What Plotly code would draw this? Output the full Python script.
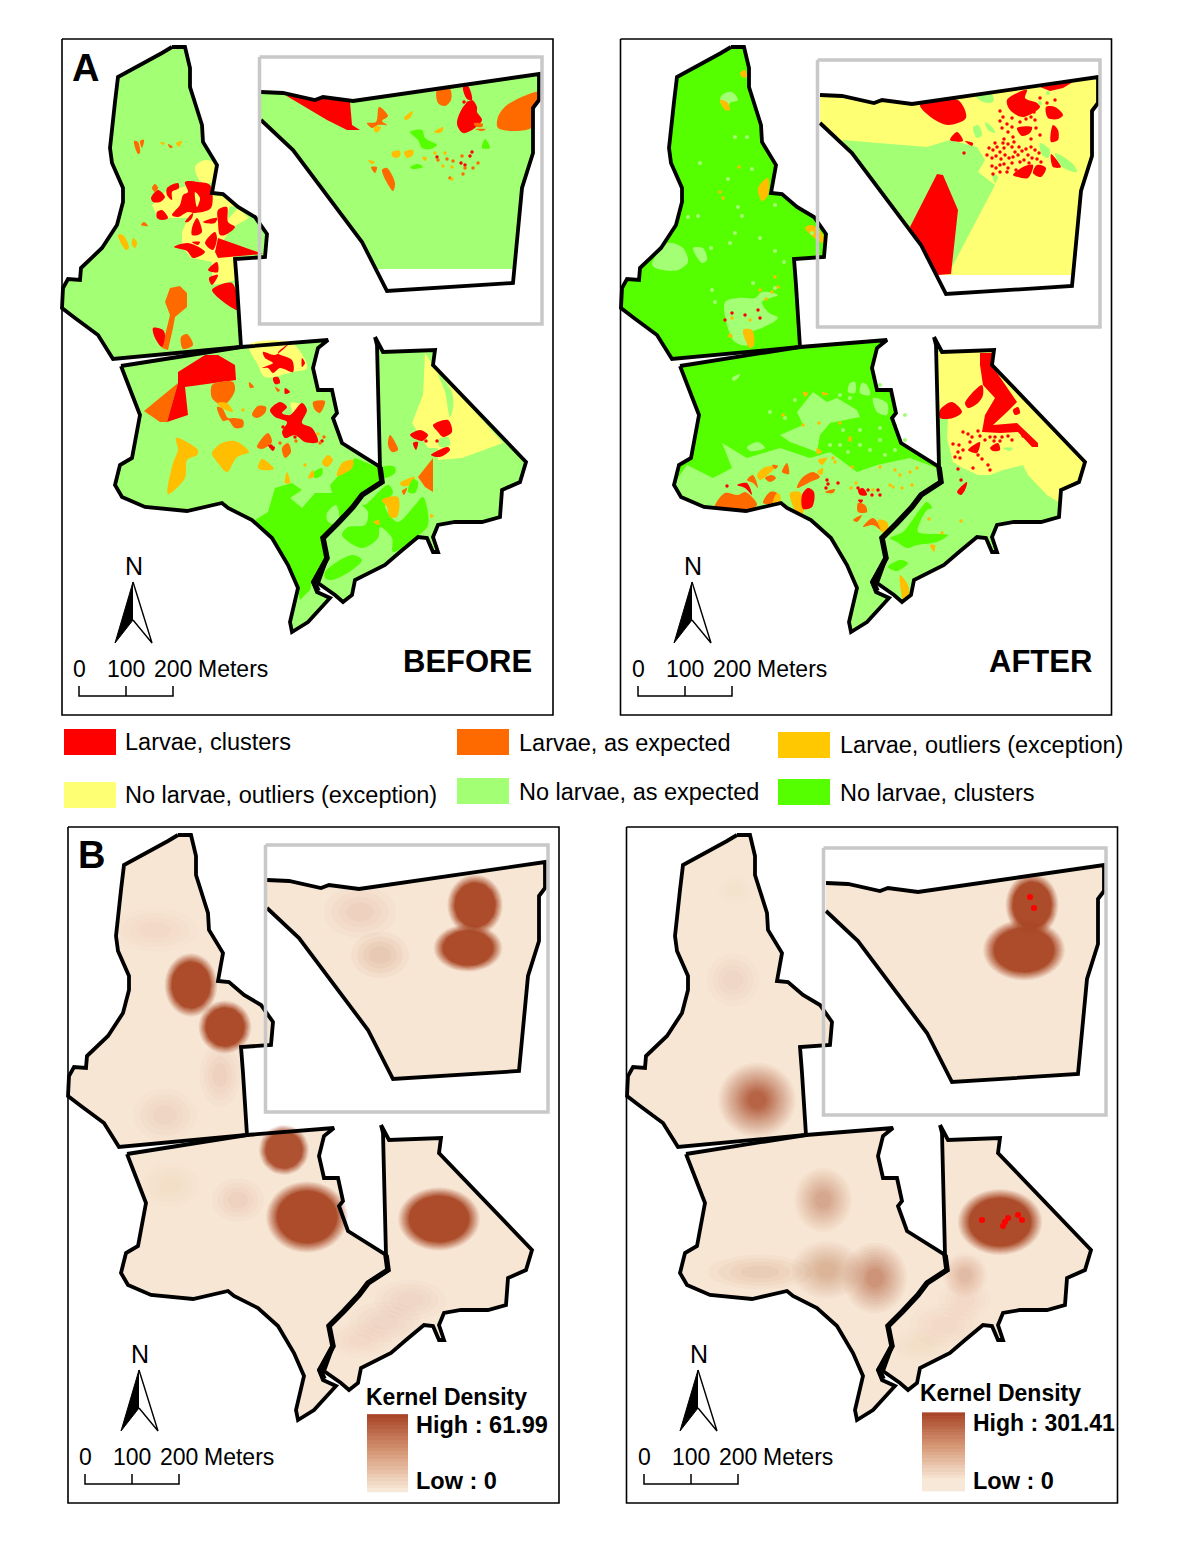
import math
import plotly.graph_objects as go

COLORS = {"red": "#ff0000", "orange": "#ff6a00", "amber": "#ffbe00", "yellow": "#ffff73",
          "lgreen": "#a3ff73", "green": "#55ff00", "peach": "#f7e6d4", "white": "#ffffff"}

WEST = [(172,47),(185,47),(190,68),(190,87),(202,125),(203,142),(217,165),(212,193),(223,194),(238,207),(255,217),(267,234),(265,257),(235,259),(237,285),(241,347),(113,359),(98,335),(75,318),(62,308),(63,288),(68,279),(80,280),(81,268),(102,248),(117,225),(123,202),(123,188),(112,163),(110,148),(115,102),(118,77),(162,53),(172,47)]
MID = [(121,366),(241,347),(328,340),(318,348),(313,368),(318,390),(332,390),(337,413),(333,418),(338,433),(342,443),(380,467),(382,482),(362,495),(353,507),(338,523),(323,538),(327,558),(313,582),(317,592),(330,598),(308,622),(292,632),(290,622),(298,588),(288,565),(272,538),(252,520),(228,508),(222,503),(187,511),(145,507),(122,497),(115,485),(120,465),(132,458),(140,415),(121,366)]
EAST = [(375,337),(383,352),(435,350),(433,365),(526,462),(520,482),(502,490),(500,517),(482,522),(455,522),(438,525),(433,537),(438,552),(433,552),(427,538),(418,537),(400,552),(385,565),(355,580),(352,595),(343,602),(335,595),(318,583),(327,558),(323,538),(338,523),(353,507),(362,495),(382,482),(380,467),(377,345),(375,337)]
SHARED = [(380,467),(382,482),(362,495),(353,507),(338,523),(323,538),(327,558),(314,582),(318,591)]
SHARED_TOP = [(113,359),(241,347)]
INSET = [(261,92),(283,93),(315,100),(323,97),(353,101),(539,74),(539,100),(533,108),(533,153),(522,188),(513,283),(387,291),(362,242),(293,150),(261,120)]
INSET_FILL_BEFORE = [(261,92),(283,93),(315,100),(323,97),(353,101),(539,74),(539,100),(533,108),(533,153),(522,188),(514,269),(376,269),(362,242),(293,150),(261,120)]
INSET_FILL_AFTER = [(261,92),(283,93),(315,100),(323,97),(353,101),(539,74),(539,100),(533,108),(533,153),(522,188),(514,272),(378,272),(362,242),(293,150),(261,120)]

BEFORE_PATCHES = [
 ("yellow",[(195,167),(205,160),(214,163),(212,182),(202,183)]),
 ("yellow",[(152,205),(165,192),(202,182),(212,195),(225,197),(237,208),(249,218),(233,227),(222,242),(235,258),(235,280),(225,283),(212,285),(212,262),(192,258),(182,248),(182,232),(188,218),(158,218)]),
 ("lgreen",[(230,207),(237,208),(228,218)]),
 ("red",[(218,238),(263,254),(218,258),(215,252)]),
 ("red",[(151,198),(158,190),(165,197),(160,202),(153,202)]),
 ("red",[(167,188),(178,183),(179,188),(172,192),(172,200),(167,195)]),
 ("red",[(185,182),(198,182),(210,185),(211,208),(195,213),(188,212),(178,217),(172,215),(180,205),(183,195),(188,192)]),
 ("red",[(157,212),(162,210),(168,218),(162,220),(157,218)]),
 ("red",[(185,222),(193,213),(192,218),(188,222)]),
 ("red",[(192,228),(197,218),(202,232),(198,235),(192,235)]),
 ("red",[(203,222),(217,218),(215,223),(205,223)]),
 ("red",[(218,210),(227,207),(228,222),(235,227),(225,235),(220,235),(218,222)]),
 ("red",[(205,243),(215,232),(217,238),(213,250)]),
 ("red",[(174,247),(188,243),(205,252),(193,258),(187,251)]),
 ("red",[(192,242),(200,242),(198,245)]),
 ("red",[(208,270),(217,262),(218,272),(212,272)]),
 ("red",[(209,278),(218,275),(212,285)]),
 ("red",[(212,290),(232,283),(238,310)]),
 ("yellow",[(195,192),(200,198),(197,207)]),
 ("orange",[(165,302),(170,288),(180,286),(187,293),(187,307),(175,317),(173,328),(168,350),(162,348),(167,328),(170,315)]),
 ("red",[(153,328),(163,330),(165,335),(162,347),(155,338)]),
 ("orange",[(181,337),(187,334),(193,345),(183,349)]),
 ("orange",[(134,141),(138,142),(140,153),(138,154)]),
 ("orange",[(140,141),(144,140),(142,148)]),
 ("amber",[(160,142),(165,143),(163,145)]),
 ("orange",[(168,144),(173,147),(170,148)]),
 ("amber",[(176,143),(182,141),(179,147)]),
 ("amber",[(118,235),(123,235),(129,248),(126,250)]),
 ("amber",[(133,238),(137,242),(135,248),(132,245)]),
 ("orange",[(141,225),(144,222),(148,226)]),
 ("orange",[(152,188),(155,184),(158,188),(155,192)]),
 # middle district
 ("green",[(255,520),(268,512),(275,488),(292,483),(302,490),(290,498),(302,508),(315,493),(332,493),(330,485),(355,458),(377,467),(380,482),(362,495),(353,507),(338,523),(323,538),(327,558),(312,582),(310,590),(300,600),(295,582),(288,565),(272,538)]),
 ("lgreen",[(327,513),(336,505),(339,518),(332,524),(327,520)]),
 ("yellow",[(249,345),(292,343),(307,368),(293,372),(265,377),(258,365)]),
 ("red",[(263,352),(275,355),(290,343),(278,353),(292,360),(293,372),(280,368),(273,373),(268,368),(262,368),(273,363),(265,358)]),
 ("red",[(302,358),(305,363),(302,367)]),
 ("orange",[(144,411),(178,383),(167,422),(160,422)]),
 ("red",[(178,372),(205,355),(218,355),(235,365),(236,380),(185,387),(188,415),(168,422),(167,422),(178,383)]),
 ("orange",[(212,385),(220,382),(233,382),(235,390),(228,402),(222,405),(212,398)]),
 ("orange",[(217,407),(222,408),(228,418),(233,418),(243,420),(243,427),(235,428),(228,420),(223,421)]),
 ("amber",[(217,403),(227,403),(233,412),(222,408)]),
 ("orange",[(252,415),(258,406),(266,407),(265,413),(257,418)]),
 ("orange",[(249,382),(254,387),(250,388)]),
 ("red",[(273,378),(278,377),(280,383),(275,384)]),
 ("orange",[(275,387),(280,390),(278,392)]),
 ("red",[(285,388),(290,392),(285,394)]),
 ("yellow",[(291,403),(302,405),(298,413),(293,412)]),
 ("red",[(270,410),(280,402),(287,407),(282,413),(290,415),(302,403),(307,410),(302,423),(312,428),(318,442),(305,442),(295,435),(285,438),(282,432),(287,422),(275,417)]),
 ("orange",[(313,402),(325,401),(320,413),(315,410)]),
 ("amber",[(176,438),(198,450),(197,455),(187,460),(185,478),(168,494),(173,463),(178,450)]),
 ("amber",[(212,453),(222,443),(235,441),(249,452),(237,457),(227,472),(218,463)]),
 ("amber",[(258,468),(262,459),(274,469),(262,470)]),
 ("orange",[(257,447),(268,433),(272,442),(262,449)]),
 ("red",[(268,445),(275,447),(273,451)]),
 ("orange",[(282,448),(288,443),(291,452),(285,458)]),
 ("amber",[(285,483),(287,472),(290,483)]),
 ("amber",[(322,463),(328,455),(333,460),(327,467)]),
 ("amber",[(337,476),(342,463),(353,460),(352,468)]),
 ("green",[(313,473),(322,468),(322,475),(315,478)]),
 ("amber",[(308,478),(313,470),(314,477)]),
 # east district
 ("yellow",[(425,353),(433,365),(503,443),(462,458),(438,460),(438,448),(428,448),(412,423),(423,395)]),
 ("lgreen",[(438,373),(452,392),(453,408),(450,417),(445,392)]),
 ("lgreen",[(438,440),(448,437),(450,445),(440,447)]),
 ("red",[(433,425),(448,420),(452,432),(443,437),(438,432)]),
 ("red",[(410,435),(420,430),(428,435),(422,441)]),
 ("red",[(431,455),(448,447),(450,450),(440,457)]),
 ("red",[(413,443),(418,442),(416,450)]),
 ("orange",[(390,435),(395,442),(398,450),(392,452),(388,445)]),
 ("orange",[(433,458),(433,492),(425,487),(418,477)]),
 ("amber",[(400,483),(415,477),(410,485),(402,486)]),
 ("green",[(408,492),(413,479),(418,482),(415,493)]),
 ("orange",[(402,491),(407,488),(404,495)]),
 ("green",[(383,467),(395,467),(395,473),(385,478),(382,477)]),
 ("green",[(365,505),(388,485),(393,492),(385,505),(388,513),(398,522),(415,505),(423,497),(428,525),(415,538),(393,552),(392,538),(380,527),(378,538),(362,548),(342,535),(348,527),(365,525),(368,512),(362,505)]),
 ("green",[(325,572),(352,555),(362,560),(352,570),(332,580),(325,578)]),
 ("amber",[(382,500),(398,497),(397,517),(390,517),(387,507)]),
 ("amber",[(373,522),(379,520),(379,525)]),
 ("amber",[(430,514),(434,516),(431,518)]),
 # inset
 ("red",[(285,95),(315,100),(323,97),(350,102),(352,125),(360,130),(347,130),(327,120)]),
 ("orange",[(367,123),(376,122),(379,107),(388,116),(382,121),(387,125),(378,125),(372,128)]),
 ("amber",[(374,127),(381,127),(378,132),(375,132)]),
 ("amber",[(404,118),(413,111),(410,118),(406,120)]),
 ("orange",[(437,90),(450,89),(451,100),(445,106),(438,103)]),
 ("red",[(463,87),(468,86),(472,100),(467,99)]),
 ("red",[(463,107),(472,100),(477,107),(477,112),(482,120),(472,130),(463,133),(457,124)]),
 ("orange",[(474,123),(483,124),(482,127),(475,126)]),
 ("orange",[(475,129),(486,129),(482,131)]),
 ("orange",[(498,117),(507,105),(539,92),(539,100),(532,108),(531,128),(498,128)]),
 ("green",[(410,132),(422,130),(425,138),(437,145),(430,149),(422,148),(418,140)]),
 ("green",[(482,148),(485,139),(490,148)]),
 ("amber",[(434,132),(443,127),(442,132),(437,133)]),
 ("amber",[(392,152),(400,151),(400,156),(396,158),(392,156)]),
 ("amber",[(404,152),(413,150),(413,155),(407,158)]),
 ("amber",[(368,160),(375,162),(372,164)]),
 ("orange",[(371,167),(377,167),(375,173)]),
 ("orange",[(382,170),(387,168),(395,183),(393,191)]),
 ("green",[(410,167),(418,164),(423,167),(413,169)]),
 ("amber",[(422,157),(427,158),(425,161)]),
]
BEFORE_SPECKS = {
 "red": [(472,152),(470,156),(461,163),(437,157),(465,165),(468,103),(464,102),(283,427),(295,437),(322,441),(316,440),(271,446),(422,437),(426,441),(437,441),(415,437)],
 "orange": [(462,156),(463,174),(473,168),(478,163),(438,160),(453,161),(447,159),(450,178),(465,168),(320,443),(324,437),(296,441),(280,443)],
 "amber": [(443,166),(452,167),(452,179),(445,153),(435,153),(318,434),(305,465),(243,410)],
}

AFTER_MAIN = [
 # west district (absolute page pixels)
 ("lgreen",[(652,265),(668,243),(683,248),(688,262),(678,270),(662,270)]),
 ("lgreen",[(693,248),(703,248),(707,260),(702,263)]),
 ("lgreen",[(725,302),(738,298),(755,298),(762,292),(778,295),(762,302),(768,312),(778,318),(762,328),(752,332),(748,345),(735,342),(727,325)]),
 ("amber",[(743,330),(752,330),(754,345),(750,348)]),
 ("amber",[(730,333),(733,337),(728,337)]),
 ("amber",[(758,188),(768,178),(768,195),(762,201)]),
 ("amber",[(805,228),(812,225),(823,235),(823,243)]),
 ("lgreen",[(722,95),(732,92),(738,100),(730,103),(728,110),(720,102)]),
 ("amber",[(720,100),(727,102),(730,110),(725,110)]),
 ("amber",[(740,73),(745,70),(747,77),(742,77)]),
 # middle district
 ("lgreen",[(673,485),(687,465),(713,478),(732,468),(722,443),(747,458),(780,448),(810,458),(830,452),(857,472),(877,465),(910,458),(937,468),(940,482),(917,507),(900,522),(882,542),(887,555),(873,578),(877,592),(888,598),(867,622),(850,630),(848,618),(857,588),(847,565),(830,538),(810,522),(787,508),(780,503),(745,511),(703,507),(680,497)]),
 ("lgreen",[(797,412),(813,392),(827,402),(837,398),(857,410),(860,417),(830,423),(820,435),(817,452),(790,442),(780,435),(803,425)]),
 ("lgreen",[(747,447),(758,442),(765,448),(750,451)]),
 ("lgreen",[(732,378),(740,374),(738,378),(733,381)]),
 ("lgreen",[(850,383),(855,382),(855,393),(848,392)]),
 ("lgreen",[(862,383),(867,385),(870,395),(860,393)]),
 ("lgreen",[(873,398),(887,403),(887,415),(877,412)]),
 ("lgreen",[(800,430),(810,432),(808,437),(802,435)]),
 ("orange",[(715,505),(725,493),(738,495),(745,492),(753,498),(757,505),(745,511),(715,507)]),
 ("orange",[(763,503),(770,492),(777,493),(773,503)]),
 ("amber",[(773,503),(777,493),(780,495),(780,503)]),
 ("amber",[(790,493),(800,492),(803,513),(797,513)]),
 ("red",[(802,495),(808,488),(814,492),(812,507),(803,509)]),
 ("orange",[(797,488),(802,478),(813,472),(820,477),(810,482)]),
 ("amber",[(817,472),(823,468),(822,475)]),
 ("amber",[(757,475),(765,467),(775,467),(765,477),(760,480)]),
 ("orange",[(747,480),(753,475),(758,488),(753,483)]),
 ("orange",[(765,478),(772,475),(776,478),(770,482)]),
 ("orange",[(782,472),(787,463),(789,474)]),
 ("orange",[(772,465),(778,466),(775,469)]),
 ("red",[(737,485),(747,483),(752,495),(745,488)]),
 ("amber",[(817,448),(822,452),(817,454)]),
 ("amber",[(818,460),(827,458),(822,465)]),
 ("amber",[(803,392),(808,393),(805,397)]),
 ("amber",[(822,392),(829,394),(823,395)]),
 ("orange",[(858,503),(865,505),(867,512),(858,512)]),
 ("red",[(858,490),(863,488),(867,495),(860,495)]),
 ("red",[(858,500),(863,500),(861,503)]),
 ("orange",[(853,520),(862,515),(857,522)]),
 ("orange",[(863,527),(873,518),(883,532),(873,525)]),
 ("amber",[(878,520),(887,522),(888,532),(883,533)]),
 ("orange",[(825,492),(835,489),(833,493),(827,493)]),
 # east district
 ("yellow",[(938,352),(995,350),(993,367),(1085,462),(1080,480),(1060,490),(1058,502),(1047,495),(1028,475),(1023,465),(1003,470),(990,475),(978,475),(963,468),(953,462),(947,438),(948,418),(938,418)]),
 ("red",[(980,353),(992,353),(993,367),(1003,382),(1017,402),(1007,412),(993,425),(1017,423),(1038,443),(1038,447),(1032,447),(1018,432),(1000,433),(982,432),(985,415),(995,398),(983,385),(980,365)]),
 ("red",[(965,403),(982,385),(983,395),(978,403),(968,408)]),
 ("red",[(940,410),(952,402),(962,412),(953,418),(940,418)]),
 ("red",[(1013,410),(1018,407),(1020,413),(1015,415)]),
 ("red",[(990,448),(998,443),(1000,450),(993,451)]),
 ("red",[(968,450),(980,442),(977,453)]),
 ("red",[(957,492),(967,482),(965,490),(961,495)]),
 ("lgreen",[(1003,448),(1013,448),(1010,451)]),
 ("green",[(890,538),(903,532),(918,512),(927,502),(932,508),(927,510),(920,522),(918,532),(948,535),(937,542),(917,545),(907,548),(897,542)]),
 ("green",[(888,567),(900,560),(908,563),(897,571)]),
 ("amber",[(900,575),(908,585),(909,595),(904,602)]),
 ("amber",[(930,545),(935,545),(934,552)]),
 # inset
 ("lgreen",[(842,140),(927,147),(950,140),(977,147),(985,160),(978,172),(995,185),(952,267),(910,227),(853,153)]),
 ("red",[(910,227),(937,174),(943,175),(958,210),(951,274),(938,275),(920,245)]),
 ("red",[(920,105),(958,100),(966,118),(948,125),(932,118)]),
 ("red",[(950,140),(957,132),(963,141)]),
 ("red",[(965,141),(973,143),(972,146)]),
 ("red",[(1007,100),(1027,90),(1025,98),(1037,103),(1040,107),(1023,117),(1010,110)]),
 ("red",[(1040,87),(1073,82),(1063,88),(1050,91)]),
 ("red",[(1046,107),(1055,107),(1063,115),(1058,119),(1048,118)]),
 ("red",[(1017,128),(1032,127),(1030,133),(1022,136)]),
 ("red",[(1053,125),(1058,130),(1058,140),(1051,142)]),
 ("red",[(1051,154),(1061,167),(1053,167)]),
 ("red",[(1037,165),(1046,168),(1041,177),(1033,173)]),
 ("red",[(1013,175),(1023,167),(1033,165),(1028,178),(1018,177)]),
 ("lgreen",[(975,95),(992,94),(993,102),(983,102)]),
 ("lgreen",[(973,127),(978,125),(982,135),(977,138)]),
 ("lgreen",[(985,122),(993,128),(995,133),(988,130)]),
 ("lgreen",[(1040,143),(1050,150),(1048,158),(1042,155)]),
 ("lgreen",[(1055,153),(1072,163),(1077,172),(1062,167)]),
 ("lgreen",[(992,173),(998,177),(995,183)]),
]
AFTER_SPECKS = {
 "lgreen": [(688,217),(735,233),(700,163),(728,179),(738,207),(742,216),(715,302),(712,290),(753,283),(711,248),(730,243),(752,169),(735,137),(747,137),(698,216),(775,251),(760,238),(775,205),(775,288),(784,262),(812,233),
            (850,398),(843,430),(860,430),(880,428),(830,445),(840,445),(860,445),(880,440),(895,425),(905,440),(895,450),(848,452),(870,450),(885,455),(770,412),(785,418),(795,400),(905,415),(880,385),(840,395),(1048,93),(1040,103)],
 "amber": [(720,192),(739,167),(723,198),(760,290),(772,292),(778,287),(775,277),(766,299),(732,318),(750,320),(783,415),(803,425),(819,423),(840,423),(850,440),(850,438),(835,462),(833,458),(852,467),(880,467),(895,470),(900,475),(917,468),(910,472),(893,487),(902,488),(912,485),(856,483),(890,485),(873,490),(851,488),(942,533),(961,521),(929,519)],
 "red": [(758,310),(732,313),(745,315),(725,320),(760,318),(727,486),(826,488),(828,484),(858,488),(868,490),(872,495),(878,490),(880,495),(838,483),(827,480),
         (959,445),(958,452),(963,450),(953,444),(955,457),(960,458),(978,455),(982,459),(988,465),(990,470),(973,468),(958,469),(961,480),
         (968,434),(972,437),(978,431),(980,436),(985,440),(970,442),(963,432),(990,437),(995,437),(1002,437),(1008,436),(1012,440),(1000,441),(994,441),(988,428),(1021,430),(1023,436),(1010,427),(1018,428),
         (964,153),(1000,111),(1003,117),(1007,124),(1012,118),(1000,121),(1012,127),(1002,128),(1008,132),(1004,139),(1013,137),(1024,108),(1027,113),(1030,104),(1034,112),(1031,117),(1035,120),(1026,119),(1020,122),(1036,128),(1040,135),(1031,139),(1040,98),(1047,103),(1055,100),
         (989,148),(993,150),(997,147),(1000,152),(1004,148),(1008,144),(1012,147),(1015,152),(1019,147),(987,155),(992,158),(996,156),(1001,159),(1005,155),(1009,158),(1013,157),(1018,155),(1022,151),(1026,149),(1031,147),(1035,150),(1039,153),(1028,155),(1032,158),(1024,160),(1020,162),(992,166),(996,168),(1000,165),(1004,164),(1008,168),(1012,163),(1016,170),(1007,172),(1000,172),(993,174),(1029,163),(1037,159),(1041,162),(1014,142),(1003,143),(995,143)],
}

# Kernel density blobs: centre x, centre y, radius x, radius y, strength
KERNEL_BEFORE = [(155,930,30,15,.06),(165,1115,22,18,.09),(220,1075,14,22,.11),(238,1200,18,15,.11),(170,1185,20,15,.05),(360,1340,22,12,.06),(385,1322,25,14,.08),(410,1300,25,14,.08),(360,912,25,18,.11),(380,955,20,16,.18),
                 (191,985,20,24,.97),(225,1027,20,20,.97),(284,1150,19,19,.93),(307,1217,31,27,.97),(439,1219,31,24,.97),(475,905,21,23,.97),(468,948,26,18,.97)]
KERNEL_AFTER = [(733,980,18,18,.08),(735,890,12,10,.03),(760,1272,36,12,.15),(920,1345,20,12,.05),(945,1325,25,15,.06),(965,1300,18,14,.06),
                (823,1200,18,20,.38),(827,1270,22,18,.3),(875,1278,20,22,.5),(965,1275,14,14,.25),(757,1100,25,24,.8),(1000,1222,32,25,.97),(1032,905,20,24,.97),(1024,950,31,23,.97)]
KERNEL_POINTS_AFTER = [(1030,897),(1034,908),(982,1220),(1005,1222),(1008,1218),(1018,1215),(1022,1220),(1003,1226)]

RAMP_BEFORE = [20,19,18,17,16,15,14,13,12,11,10,9,8,7,6,5,4,3,2,1,0]
RAMP_AFTER = [20,19,18,17,16,15,14,13,12,11,10,9,8,7,6,5,4,3,2,1,0,0,0,0]

NORTH_DARK = [(133,582),(115,643),(133,620)]
NORTH_LIGHT = [(133,582),(152,643),(133,620)]
SCALE_TICKS = [79,126,173]
SCALE_LABELS = ["0","100","200"]

LEGEND_ITEMS = [
 ("red","Larvae, clusters",64,729,125,742),
 ("orange","Larvae, as expected",457,729,519,743),
 ("amber","Larvae, outliers (exception)",778,732,840,745),
 ("yellow","No larvae, outliers (exception)",64,782,125,795),
 ("lgreen","No larvae, as expected",457,778,519,792),
 ("green","No larvae, clusters",778,779,840,793),
]

FONT = "Liberation Sans"
fig = go.Figure()
annots = []

def moved(poly, dx=0, dy=0):
    return [(x+dx, y+dy) for x, y in poly]

def fill(poly, color):
    fig.add_trace(go.Scatter(x=[p[0] for p in poly], y=[p[1] for p in poly], mode="lines", fill="toself",
                             fillcolor=color, line=dict(width=0, color=color), hoverinfo="skip", showlegend=False))

def patch(poly, key):
    w = max(p[0] for p in poly)-min(p[0] for p in poly)
    h = max(p[1] for p in poly)-min(p[1] for p in poly)
    d = max(w, h)
    smooth = d < 30 or (len(poly) >= 5 and d < (90 if key == "green" else 60))
    closed = poly+[poly[0]]
    col = COLORS[key]
    fig.add_trace(go.Scatter(x=[p[0] for p in closed], y=[p[1] for p in closed], mode="lines", fill="toself", fillcolor=col,
                             line=dict(width=0, color=col, shape="spline" if smooth else "linear", smoothing=0.9),
                             hoverinfo="skip", showlegend=False))

def line(poly, color="#000000", width=3.8):
    fig.add_trace(go.Scatter(x=[p[0] for p in poly], y=[p[1] for p in poly], mode="lines",
                             line=dict(width=width, color=color), hoverinfo="skip", showlegend=False))

def specks(points, color, size=3.5):
    fig.add_trace(go.Scatter(x=[p[0] for p in points], y=[p[1] for p in points], mode="markers",
                             marker=dict(size=size, color=color, line=dict(width=0)), hoverinfo="skip", showlegend=False))

def text(x, y, s, size, bold=False, anchor="left", color="#000000"):
    annots.append(dict(x=x, y=y, xref="x", yref="y", text=f"<b>{s}</b>" if bold else s, showarrow=False, xanchor=anchor, yanchor="middle",
                       font=dict(family=FONT, size=size, color=color), borderpad=0, borderwidth=0))

def furniture(left, top, inset_dy, dx, dy):
    line([(left, top), (left+491, top), (left+491, top+676), (left, top+676), (left, top)], width=1.6)
    x0, y0 = 259.5+dx-(1 if dx in (559,565) else 0), 57+dy+inset_dy
    line([(x0, y0), (x0+282.5, y0), (x0+282.5, y0+267), (x0, y0+267), (x0, y0)], color="#c8c8c8", width=3.5)
    fill(moved(NORTH_DARK, dx, dy), "#000000")
    line(moved(NORTH_LIGHT, dx, dy), width=1.4)
    line(moved(NORTH_DARK, dx, dy), width=1)
    text(134+dx, 566+dy, "N", 25, anchor="center")
    line(moved([(SCALE_TICKS[0],686),(SCALE_TICKS[0],696),(SCALE_TICKS[2],696),(SCALE_TICKS[2],686)], dx, dy), width=1.5)
    line(moved([(SCALE_TICKS[1],686),(SCALE_TICKS[1],696)], dx, dy), width=1.5)
    for t, lab in zip(SCALE_TICKS, SCALE_LABELS):
        text(t+dx, 669+dy, lab, 23, anchor="center")
    text(198+dx, 669+dy, "Meters", 23)

def outlines(dx, dy, inset_dy):
    for poly in (WEST, MID, EAST):
        line(moved(poly, dx, dy))
    line(moved(SHARED, dx, dy), width=5.5)
    line(moved(INSET, dx, dy+inset_dy))

def rings(blobs):
    th = [i*math.pi/18 for i in range(37)]
    for cx, cy, rx, ry, s in blobs:
        if s > 0.9:
            steps = [1.32, 1.28, 1.24, 1.2, 1.16, 1.12, 1.08, 1.04, 1.0, .97]
        elif s > 0.6:
            steps = [1.55-0.08*k for k in range(16)]
        elif s > 0.2:
            steps = [1.6-0.13*k for k in range(10)]
        else:
            steps = [1.45, 1.15, .85, .55]
        prev = 0.0
        for k, f in enumerate(steps, 1):
            cum = s*k/len(steps)
            a = 1-(1-cum)/(1-prev)
            prev = cum
            fill([(cx+rx*f*math.cos(t), cy+ry*f*math.sin(t)) for t in th], f"rgba(170,72,38,{a:.4f})")

# ---- A, before
for poly in (WEST, MID, EAST):
    fill(poly, COLORS["lgreen"])
fill(INSET_FILL_BEFORE, COLORS["lgreen"])
for c, poly in BEFORE_PATCHES:
    patch(poly, c)
for c, pts in BEFORE_SPECKS.items():
    specks(pts, COLORS[c])
outlines(0, 0, 0)
furniture(62, 39, 0, 0, 0)

# ---- A, after
fill(moved(WEST, 559), COLORS["green"])
fill(moved(MID, 559), COLORS["green"])
fill(moved(EAST, 559), COLORS["lgreen"])
fill(moved(INSET_FILL_AFTER, 559, 3), COLORS["yellow"])
for c, poly in AFTER_MAIN:
    patch(poly, c)
for c, pts in AFTER_SPECKS.items():
    specks(pts, COLORS[c], size=4 if c == "lgreen" else 3.5)
outlines(559, 0, 3)
furniture(620.5, 39, 3, 559, 0)

# ---- legend
for c, lab, sx, sy, tx, ty in LEGEND_ITEMS:
    fill([(sx,sy),(sx+52,sy),(sx+52,sy+26),(sx,sy+26)], "#ffc800" if c == "amber" else COLORS[c])
    text(tx, ty, lab, 23.5)

# ---- B, kernel density
for dx, dy, idy, blobs in ((6, 788, 0, KERNEL_BEFORE), (565, 788, 3, KERNEL_AFTER)):
    for poly in (WEST, MID, EAST):
        fill(moved(poly, dx, dy), COLORS["peach"])
    fill(moved(INSET, dx, dy+idy), COLORS["peach"])
    rings(blobs)
specks(KERNEL_POINTS_AFTER, "#ff0000", size=6)
outlines(6, 788, 0)
outlines(565, 788, 3)
furniture(68, 827, 0, 6, 788)
furniture(626.5, 827, 3, 565, 788)

SCALE = [[0, "#f8e8d8"], [0.5, "#d79a78"], [1, "#a9472a"]]
fig.add_trace(go.Heatmap(z=[[v] for v in RAMP_BEFORE], x0=387.5, dx=41, y0=1416, dy=3.7, colorscale=SCALE, zmin=0, zmax=20, showscale=False, hoverinfo="skip"))
fig.add_trace(go.Heatmap(z=[[v] for v in RAMP_AFTER], x0=943.5, dx=43, y0=1414, dy=3.3, colorscale=SCALE, zmin=0, zmax=20, showscale=False, hoverinfo="skip"))
text(366, 1397, "Kernel Density", 23, bold=True)
text(416, 1425, "High : 61.99", 23.5, bold=True)
text(416, 1481, "Low : 0", 23.5, bold=True)
text(920, 1393, "Kernel Density", 23, bold=True)
text(973, 1423, "High : 301.41", 23, bold=True)
text(973, 1481, "Low : 0", 23.5, bold=True)

# ---- titles
text(72, 68, "A", 38, bold=True)
text(78, 855, "B", 38, bold=True)
text(403, 661, "BEFORE", 31, bold=True)
text(989, 661, "AFTER", 31, bold=True)

fig.update_layout(width=1200, height=1553, margin=dict(l=0, r=0, t=0, b=0), paper_bgcolor="white", plot_bgcolor="white",
                  showlegend=False, annotations=annots,
                  xaxis=dict(range=[0,1200], visible=False, fixedrange=True),
                  yaxis=dict(range=[1553,0], visible=False, fixedrange=True))
fig.write_html("out.html", post_script="document.body.style.margin='0';", config={"displayModeBar": False})
